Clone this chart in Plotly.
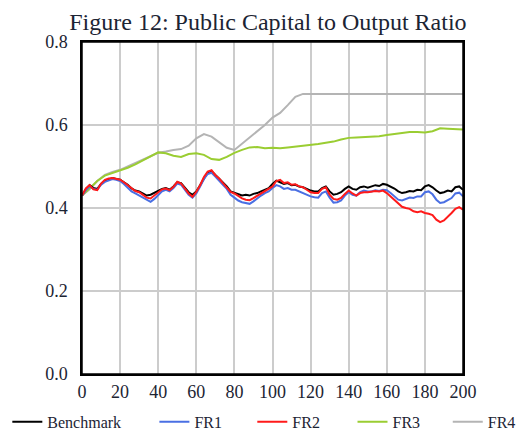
import plotly.graph_objects as go

# time axis for the noisy series (every 2 periods) and smoother series (every 4)
t2 = list(range(0, 201, 2))
t4 = list(range(0, 201, 4))

benchmark = [0.430, 0.445, 0.455, 0.448, 0.446, 0.458, 0.465, 0.468, 0.472, 0.470,
             0.468, 0.462, 0.456, 0.447, 0.442, 0.440, 0.434, 0.430, 0.432, 0.437,
             0.440, 0.446, 0.448, 0.444, 0.452, 0.462, 0.460, 0.449, 0.438, 0.432,
             0.440, 0.455, 0.472, 0.486, 0.489, 0.480, 0.472, 0.462, 0.452, 0.440,
             0.437, 0.433, 0.430, 0.432, 0.430, 0.434, 0.436, 0.440, 0.445, 0.448,
             0.458, 0.466, 0.462, 0.458, 0.460, 0.455, 0.456, 0.452, 0.450, 0.446,
             0.442, 0.440, 0.440, 0.448, 0.452, 0.440, 0.432, 0.434, 0.438, 0.446,
             0.452, 0.446, 0.444, 0.450, 0.452, 0.449, 0.452, 0.455, 0.453, 0.458,
             0.456, 0.452, 0.447, 0.440, 0.436, 0.438, 0.441, 0.440, 0.444, 0.443,
             0.452, 0.455, 0.450, 0.442, 0.436, 0.438, 0.442, 0.440, 0.450, 0.452,
             0.444]
fr1 = [0.430, 0.443, 0.452, 0.446, 0.444, 0.456, 0.463, 0.466, 0.470, 0.468,
       0.465, 0.458, 0.450, 0.440, 0.435, 0.430, 0.424, 0.418, 0.415, 0.422,
       0.430, 0.440, 0.444, 0.440, 0.448, 0.459, 0.456, 0.444, 0.432, 0.425,
       0.435, 0.452, 0.470, 0.482, 0.485, 0.476, 0.467, 0.456, 0.446, 0.432,
       0.425, 0.418, 0.414, 0.412, 0.410, 0.416, 0.424, 0.430, 0.436, 0.440,
       0.448, 0.455, 0.452, 0.446, 0.448, 0.444, 0.444, 0.440, 0.437, 0.432,
       0.428, 0.426, 0.425, 0.436, 0.440, 0.425, 0.413, 0.414, 0.418, 0.430,
       0.438, 0.432, 0.430, 0.438, 0.442, 0.440, 0.440, 0.443, 0.441, 0.444,
       0.443, 0.436, 0.428, 0.420, 0.418, 0.422, 0.425, 0.424, 0.428, 0.428,
       0.438, 0.440, 0.433, 0.420, 0.412, 0.414, 0.420, 0.424, 0.435, 0.437,
       0.428]
fr2 = [0.430, 0.447, 0.455, 0.445, 0.443, 0.459, 0.468, 0.471, 0.472, 0.470,
       0.468, 0.462, 0.455, 0.446, 0.441, 0.438, 0.431, 0.425, 0.423, 0.431,
       0.439, 0.445, 0.447, 0.443, 0.451, 0.463, 0.459, 0.447, 0.435, 0.427,
       0.439, 0.455, 0.475, 0.488, 0.491, 0.479, 0.471, 0.460, 0.450, 0.439,
       0.435, 0.428, 0.423, 0.420, 0.419, 0.424, 0.430, 0.435, 0.442, 0.446,
       0.452, 0.465, 0.468, 0.460, 0.462, 0.456, 0.457, 0.452, 0.450, 0.444,
       0.438, 0.436, 0.436, 0.446, 0.450, 0.432, 0.422, 0.420, 0.424, 0.434,
       0.442, 0.435, 0.430, 0.436, 0.438, 0.438, 0.440, 0.441, 0.440, 0.442,
       0.436, 0.428, 0.420, 0.410, 0.403, 0.400, 0.398, 0.392, 0.390, 0.392,
       0.388, 0.386, 0.383, 0.372, 0.366, 0.370, 0.378, 0.388, 0.398, 0.402,
       0.396]
fr3 = [0.430, 0.448, 0.465, 0.478, 0.484, 0.490, 0.497, 0.505, 0.515, 0.523,
       0.534, 0.532, 0.526, 0.523, 0.530, 0.532, 0.528, 0.518, 0.516, 0.523,
       0.533, 0.540, 0.546, 0.547, 0.544, 0.545, 0.544, 0.546, 0.548, 0.549,
       0.552, 0.554, 0.557, 0.560, 0.565, 0.569, 0.570, 0.571, 0.572, 0.573,
       0.576, 0.578, 0.581, 0.583, 0.583, 0.582, 0.585, 0.592, 0.591, 0.590,
       0.589]
fr4 = [0.430, 0.445, 0.465, 0.480, 0.487, 0.492, 0.500, 0.508, 0.516, 0.525,
       0.533, 0.536, 0.540, 0.542, 0.550, 0.568, 0.578, 0.572, 0.558, 0.545,
       0.540, 0.555, 0.571, 0.585, 0.600, 0.618, 0.629, 0.648, 0.668, 0.675,
       0.675, 0.675, 0.675, 0.675, 0.675, 0.675, 0.675, 0.675, 0.675, 0.675,
       0.675, 0.675, 0.675, 0.675, 0.675, 0.675, 0.675, 0.675, 0.675, 0.675,
       0.675]

names = ["Benchmark", "FR1", "FR2", "FR3", "FR4"]
colors = ["#000000", "#4a6fe3", "#ff1a1a", "#9acd32", "#b4b4b4"]
series = [benchmark, fr1, fr2, fr3, fr4]
xs = [t2, t2, t2, t4, t4]

x_ticks = list(range(0, 201, 20))
y_ticks = [0.0, 0.2, 0.4, 0.6, 0.8]
y_labels = ["0.0", "0.2", "0.4", "0.6", "0.8"]

# legend entry positions (paper x) for each series' own legend
legend_x = [-0.196, 0.19, 0.447, 0.71, 0.96]
legend_ids = ["legend", "legend2", "legend3", "legend4", "legend5"]

font = "Liberation Serif, Times New Roman, serif"
txt = "#1c2433"

fig = go.Figure()
order = [4, 3, 0, 1, 2]  # draw red last (on top)
for i in order:
    fig.add_trace(go.Scatter(x=xs[i], y=series[i], mode="lines", name=names[i],
                             line=dict(color=colors[i], width=2),
                             legend=legend_ids[i]))

legend_layouts = {}
for i, lid in enumerate(legend_ids):
    legend_layouts[lid] = dict(orientation="h", x=legend_x[i], xanchor="left",
                               y=-0.093, yanchor="top",
                               font=dict(family=font, size=16, color=txt),
                               itemwidth=30, bgcolor="rgba(0,0,0,0)")

fig.update_layout(
    width=523, height=426,
    margin=dict(l=74, r=68, t=34, b=60, autoexpand=False),
    paper_bgcolor="white", plot_bgcolor="white",
    font=dict(family=font, size=18, color=txt),
    title=dict(text="Figure 12: Public Capital to Output Ratio",
               x=0.497, xanchor="center", y=0.988, yanchor="top",
               font=dict(family=font, size=24, color=txt)),
    showlegend=True,
    **legend_layouts,
)
fig.update_xaxes(range=[0, 200], tickvals=x_ticks, showgrid=True,
                 gridcolor="#cccccc", gridwidth=1.5, showline=True,
                 linecolor="black", linewidth=1.5, mirror=True, zeroline=False,
                 ticks="", ticklabelstandoff=1)
fig.update_yaxes(range=[0, 0.8], tickvals=y_ticks, ticktext=y_labels, showgrid=True,
                 gridcolor="#cccccc", gridwidth=1.5, showline=True,
                 linecolor="black", linewidth=1.5, mirror=True, zeroline=False,
                 ticks="", ticklabelstandoff=9)
fig.add_shape(type="rect", xref="paper", yref="paper", x0=0, x1=1, y0=0, y1=1,
              line=dict(color="black", width=1.5), layer="above")

fig.write_html("out.html")
